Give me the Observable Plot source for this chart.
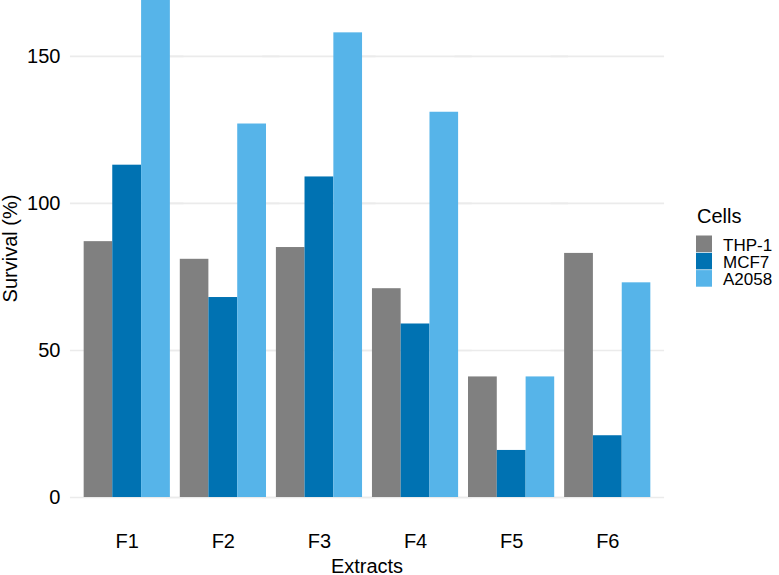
<!DOCTYPE html>
<html>
<head>
<meta charset="utf-8">
<script src="https://cdn.jsdelivr.net/npm/d3@7"></script>
<script src="https://cdn.jsdelivr.net/npm/@observablehq/plot@0.6"></script>
<style>
  html, body { margin: 0; padding: 0; background: #fff; }
  #chart { width: 779px; height: 575px; overflow: hidden; }
  svg { font-family: "Liberation Sans", Arial, sans-serif; }
</style>
</head>
<body>
<div id="chart"></div>
<script>
const extracts = ["F1", "F2", "F3", "F4", "F5", "F6"];
const cells = ["THP-1", "MCF7", "A2058"];
const thp1  = [87, 81, 85, 71, 41, 83];
const mcf7  = [113, 68, 109, 59, 16, 21];
const a2058 = [172, 127, 158, 131, 41, 73];
const colors = ["#808080", "#0072B2", "#56B4E9"];
const yTicks = [0, 50, 100, 150];
const yMax = 169;

const series = [thp1, mcf7, a2058];
const data = [];
extracts.forEach((e, i) => {
  cells.forEach((c, j) => data.push({Extract: e, Cell: c, Survival: series[j][i]}));
});

const chart = Plot.plot({
  width: 779,
  height: 575,
  marginLeft: 69,
  marginRight: 114,
  marginTop: 0,
  marginBottom: 78,
  style: {fontFamily: "'Liberation Sans', Arial, sans-serif", background: "#fff"},
  fx: {domain: extracts, paddingInner: 0.1, paddingOuter: 0.15, round: false, label: null},
  x: {domain: cells, padding: 0, round: false, axis: null},
  y: {domain: [0, yMax], label: null},
  color: {domain: cells, range: colors},
  marks: [
    Plot.ruleY(yTicks, {stroke: "#ebebeb", strokeWidth: 1.6, insetLeft: -13.5, insetRight: -13.5}),
    Plot.barY(data, {fx: "Extract", x: "Cell", y: "Survival", fill: "Cell", clip: true, insetLeft: 0, insetRight: 0}),
    Plot.axisY(yTicks, {tickSize: 0, tickPadding: 23.5, fontSize: 20, fill: "#000", label: null}),
    Plot.axisFx({anchor: "bottom", tickSize: 0, tickPadding: 36, fontSize: 20, fill: "#000", label: null})
  ]
});

document.getElementById("chart").appendChild(chart);

const svg = d3.select(chart);
const font = "'Liberation Sans', Arial, sans-serif";
// Axis titles
svg.append("text")
  .attr("x", 367).attr("y", 572.5)
  .attr("text-anchor", "middle")
  .attr("font-size", 20).attr("font-family", font).attr("fill", "#000")
  .text("Extracts");
svg.append("text")
  .attr("transform", "translate(17,248.5) rotate(-90)")
  .attr("text-anchor", "middle")
  .attr("font-size", 20).attr("font-family", font).attr("fill", "#000")
  .text("Survival (%)");

// Legend
const colorScale = chart.scale("color");
const lg = svg.append("g").attr("text-anchor", "start");
lg.append("text")
  .attr("x", 697).attr("y", 222.7)
  .attr("text-anchor", "start")
  .attr("font-size", 20).attr("font-family", font).attr("fill", "#000")
  .text("Cells");
cells.forEach((c, i) => {
  const y0 = 235.5 + i * 17.3;
  lg.append("rect")
    .attr("x", 696).attr("y", y0).attr("width", 16).attr("height", 16.6)
    .attr("fill", colorScale.apply(c));
  lg.append("text")
    .attr("x", 723).attr("y", y0 + 15)
    .attr("text-anchor", "start")
    .attr("font-size", 17).attr("font-family", font).attr("fill", "#000")
    .text(c);
});
</script>
</body>
</html>
